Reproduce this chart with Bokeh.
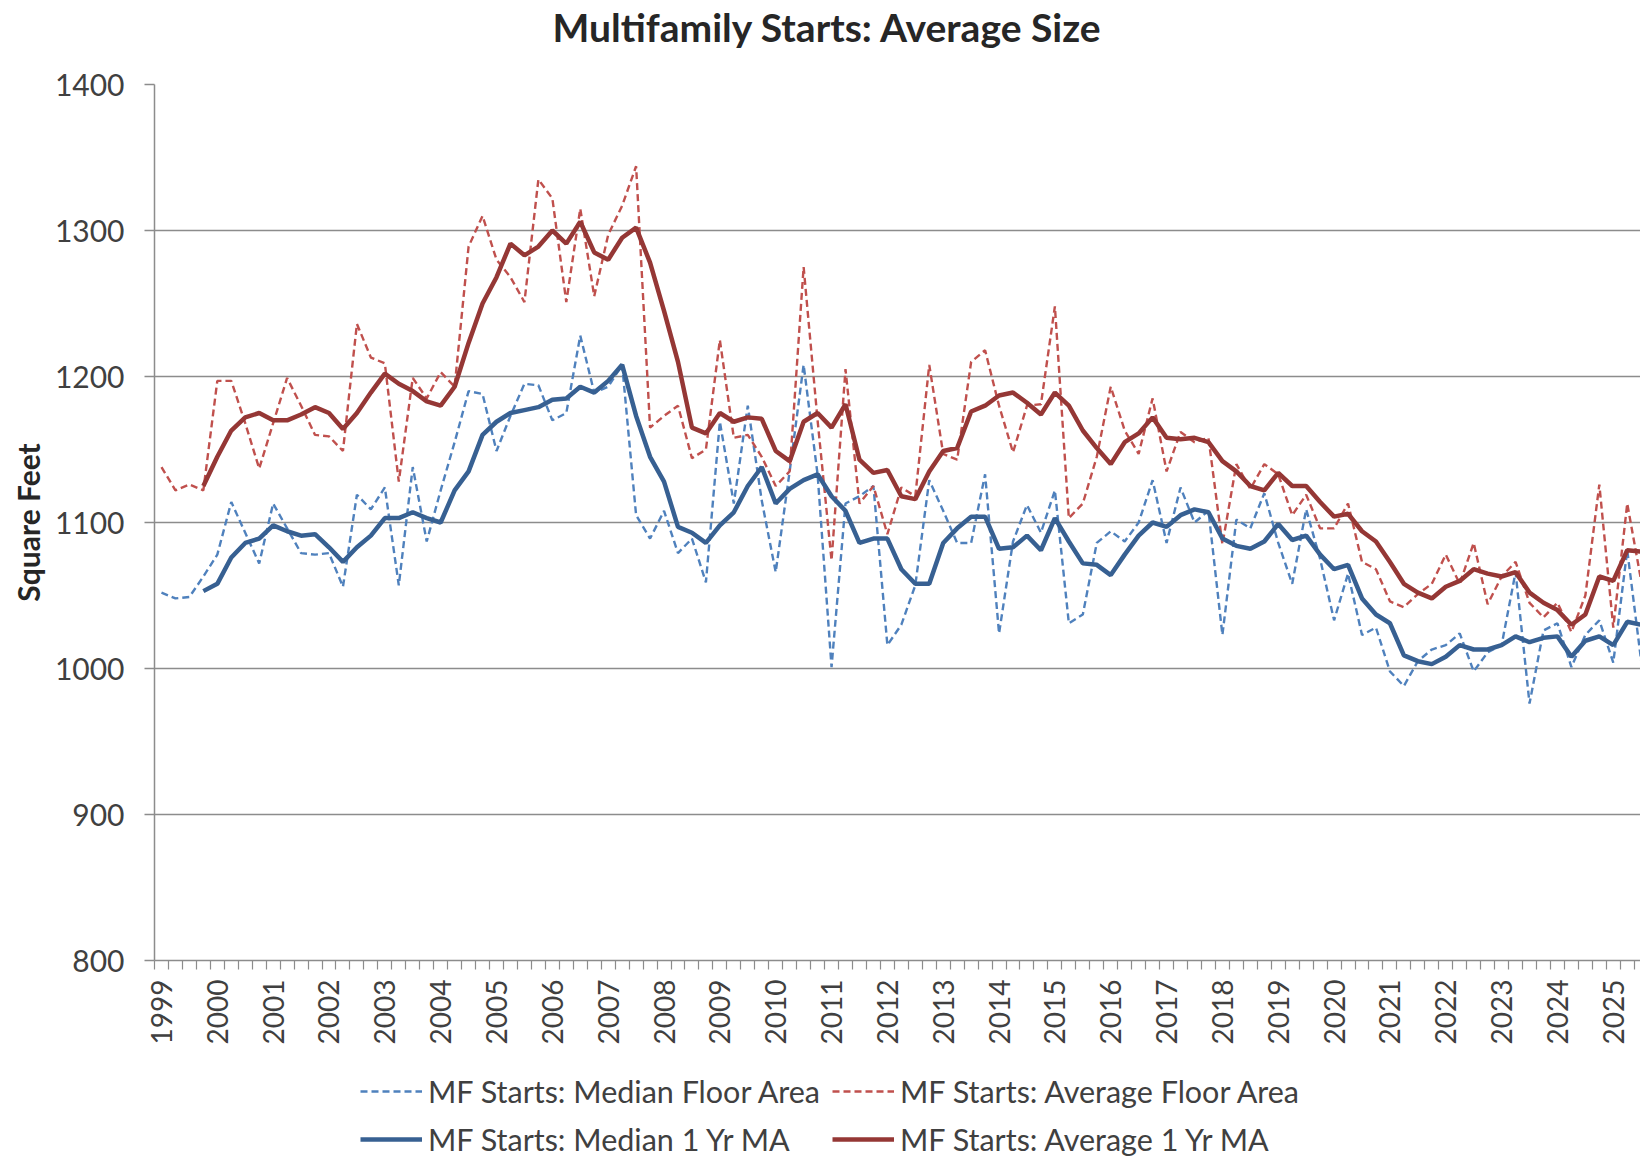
import math
from bokeh.plotting import figure
from bokeh.layouts import column
from bokeh.models import Range1d, FixedTicker, Legend, LegendItem, Title
from bokeh.embed import file_html
from bokeh.resources import INLINE

# ---------------- data (quarterly, 1999 Q1 onward) ----------------
year_labels = ["1999", "2000", "2001", "2002", "2003", "2004", "2005", "2006", "2007",
               "2008", "2009", "2010", "2011", "2012", "2013", "2014", "2015", "2016",
               "2017", "2018", "2019", "2020", "2021", "2022", "2023", "2024", "2025"]

y_ticks = [800, 900, 1000, 1100, 1200, 1300, 1400]

median_floor = [
    1052, 1048, 1049, 1063, 1078, 1114, 1093, 1072, 1113, 1096,
    1079, 1078, 1079, 1056, 1119, 1109, 1124, 1057, 1138, 1087,
    1122, 1155, 1190, 1188, 1149, 1173, 1195, 1194, 1170, 1175,
    1228, 1189, 1193, 1208, 1105, 1089, 1108, 1079, 1089, 1059,
    1169, 1113, 1180, 1115, 1066, 1135, 1208, 1133, 1001, 1113,
    1118, 1125, 1016, 1030, 1057, 1129, 1108, 1086, 1086, 1133,
    1024, 1087, 1112, 1093, 1122, 1031, 1037, 1086, 1094, 1087,
    1100, 1129, 1086, 1124, 1100, 1108, 1023, 1102, 1096, 1120,
    1086, 1058, 1109, 1075, 1033, 1065, 1023, 1028, 998, 988,
    1005, 1013, 1016, 1024, 998, 1011, 1016, 1066, 976, 1026,
    1031, 1001, 1023, 1033, 1004, 1081, 1005]

average_floor = [
    1138, 1122, 1126, 1122, 1197, 1197, 1168, 1137, 1168, 1199,
    1180, 1160, 1159, 1149, 1236, 1213, 1209, 1128, 1199, 1185,
    1203, 1193, 1289, 1310, 1280, 1268, 1251, 1335, 1322, 1251,
    1315, 1255, 1297, 1317, 1344, 1165, 1173, 1180, 1144, 1150,
    1225, 1158, 1160, 1145, 1125, 1135, 1275, 1170, 1074, 1205,
    1113, 1125, 1092, 1124, 1118, 1208, 1147, 1143, 1210, 1218,
    1180, 1148, 1180, 1181, 1248, 1103, 1113, 1145, 1193, 1163,
    1147, 1185, 1135, 1162, 1155, 1158, 1085, 1140, 1123, 1140,
    1133, 1105, 1119, 1096, 1096, 1113, 1073, 1068, 1046, 1042,
    1051, 1058, 1078, 1058, 1086, 1044, 1063, 1073, 1045, 1035,
    1045, 1025, 1050, 1126, 1028, 1113, 1060]

median_ma = [
    None, None, None, 1053, 1058, 1076, 1086, 1089, 1098, 1094,
    1091, 1092, 1083, 1073, 1083, 1091, 1103, 1103, 1107, 1103,
    1100, 1122, 1135, 1160, 1169, 1175, 1177, 1179, 1184, 1185,
    1193, 1189, 1197, 1208, 1173, 1145, 1128, 1097, 1093, 1086,
    1098, 1107, 1125, 1138, 1113, 1123, 1129, 1133, 1118, 1108,
    1086, 1089, 1089, 1068, 1058, 1058, 1086, 1096, 1104, 1104,
    1082, 1083, 1091, 1081, 1103, 1087, 1072, 1071, 1064, 1078,
    1091, 1100, 1097, 1105, 1109, 1107, 1089, 1084, 1082, 1087,
    1099, 1088, 1091, 1078, 1068, 1071, 1048, 1037, 1031, 1009,
    1005, 1003, 1008, 1016, 1013, 1013, 1016, 1022, 1018, 1021,
    1022, 1008, 1019, 1022, 1016, 1032, 1030]

average_ma = [
    None, None, None, 1125, 1145, 1163, 1172, 1175, 1170, 1170,
    1174, 1179, 1175, 1164, 1175, 1189, 1202, 1195, 1190, 1183,
    1180, 1193, 1223, 1250, 1268, 1291, 1283, 1289, 1300, 1291,
    1306, 1285, 1280, 1295, 1302, 1278, 1245, 1210, 1165, 1161,
    1175, 1169, 1172, 1171, 1149, 1142, 1169, 1175, 1165, 1181,
    1143, 1134, 1136, 1118, 1116, 1135, 1149, 1151, 1176, 1180,
    1187, 1189, 1182, 1174, 1189, 1180, 1163, 1151, 1140, 1155,
    1161, 1172, 1158, 1157, 1158, 1155, 1142, 1135, 1125, 1122,
    1134, 1125, 1125, 1114, 1104, 1106, 1094, 1087, 1073, 1058,
    1052, 1048, 1056, 1060, 1068, 1065, 1063, 1066, 1052, 1045,
    1040, 1030, 1037, 1063, 1060, 1081, 1080]

series_labels = ["MF Starts: Median Floor Area", "MF Starts: Average Floor Area",
                 "MF Starts: Median 1 Yr MA", "MF Starts: Average 1 Yr MA"]


def nanify(vals):
    return [float("nan") if v is None else v for v in vals]


n = len(median_floor)
xs = list(range(n))

FONT = "Lato"
GRID = "#8c8c8c"
TEXT = "#404040"
W = 1640

STYLES = [
    dict(line_color="#4F81BD", line_width=2.4, line_dash="7 4"),
    dict(line_color="#C0504D", line_width=2.4, line_dash="7 4"),
    dict(line_color="#376092", line_width=4.5),
    dict(line_color="#953735", line_width=4.5),
]

p = figure(width=W, height=1050, output_backend="svg", toolbar_location=None,
           title=None,
           x_range=Range1d(-0.5, 105.95), y_range=Range1d(y_ticks[0], y_ticks[-1]),
           min_border_left=154, min_border_right=0, min_border_top=84,
           min_border_bottom=90)
p.outline_line_color = None
p.background_fill_color = "white"
p.border_fill_color = "white"

# title (a blank spacer title sits between the real title and the frame)
p.add_layout(Title(text=" ", text_font=FONT, text_font_size="27px", standoff=0), "above")
p.add_layout(Title(text="Multifamily Starts: Average Size", align="left", offset=398,
                   text_font=FONT, text_font_size="39px", text_font_style="bold",
                   text_color="#262626", standoff=0), "above")

# grid
p.xgrid.visible = False
p.ygrid.grid_line_color = GRID
p.ygrid.grid_line_width = 1.5

# y axis
p.yaxis.ticker = FixedTicker(ticks=y_ticks)
p.yaxis.axis_line_color = GRID
p.yaxis.axis_line_width = 1.5
p.yaxis.major_tick_line_color = GRID
p.yaxis.major_tick_line_width = 1.5
p.yaxis.major_tick_out = 10
p.yaxis.major_tick_in = 0
p.yaxis.minor_tick_line_color = None
p.yaxis.major_label_standoff = 20
p.yaxis.major_label_text_font = FONT
p.yaxis.major_label_text_font_size = "30px"
p.yaxis.major_label_text_color = TEXT
p.yaxis.axis_label = "Square Feet"
p.yaxis.axis_label_text_font = FONT
p.yaxis.axis_label_text_font_size = "30px"
p.yaxis.axis_label_text_font_style = "bold"
p.yaxis.axis_label_text_color = "#262626"
p.yaxis.axis_label_standoff = 6

# x axis: one category per quarter, labelled every 4th
major = [4 * k for k in range(len(year_labels))]
p.xaxis.ticker = FixedTicker(ticks=major, minor_ticks=[i - 0.5 for i in range(n + 1)])
p.xaxis.major_label_overrides = {4 * k: lab for k, lab in enumerate(year_labels)}
p.xaxis.major_label_orientation = math.pi / 2
p.xaxis.axis_line_color = GRID
p.xaxis.axis_line_width = 1.5
p.xaxis.major_tick_out = 0
p.xaxis.major_tick_in = 0
p.xaxis.minor_tick_out = 9
p.xaxis.minor_tick_in = 0
p.xaxis.minor_tick_line_color = GRID
p.xaxis.minor_tick_line_width = 1.2
p.xaxis.major_label_standoff = 10
p.xaxis.major_label_text_font = FONT
p.xaxis.major_label_text_font_size = "28px"
p.xaxis.major_label_text_color = TEXT

# series
for vals, st in zip([median_floor, average_floor, nanify(median_ma), nanify(average_ma)], STYLES):
    p.line(xs, vals, **st)

# legend strip below the chart
p2 = figure(width=W, height=110, output_backend="svg", toolbar_location=None,
            x_axis_location=None, y_axis_location=None, min_border=0,
            x_range=Range1d(0, 1), y_range=Range1d(0, 1))
p2.outline_line_color = None
p2.xgrid.visible = False
p2.ygrid.visible = False
items = []
for lab, st in zip(series_labels, STYLES):
    r = p2.line([float("nan")], [float("nan")], **st)
    items.append(LegendItem(label=lab, renderers=[r]))

legend = Legend(items=items, orientation="horizontal", ncols=2, location=(206, 3.5))
legend.label_text_font = FONT
legend.label_text_font_size = "30.5px"
legend.label_text_color = TEXT
legend.glyph_width = 62
legend.glyph_height = 30
legend.label_height = 34
legend.label_standoff = 6
legend.spacing = 12
legend.padding = 0
legend.margin = 0
legend.border_line_color = None
legend.background_fill_alpha = 0
p2.add_layout(legend)

open("out.html", "w").write(file_html(column(p, p2), INLINE))
